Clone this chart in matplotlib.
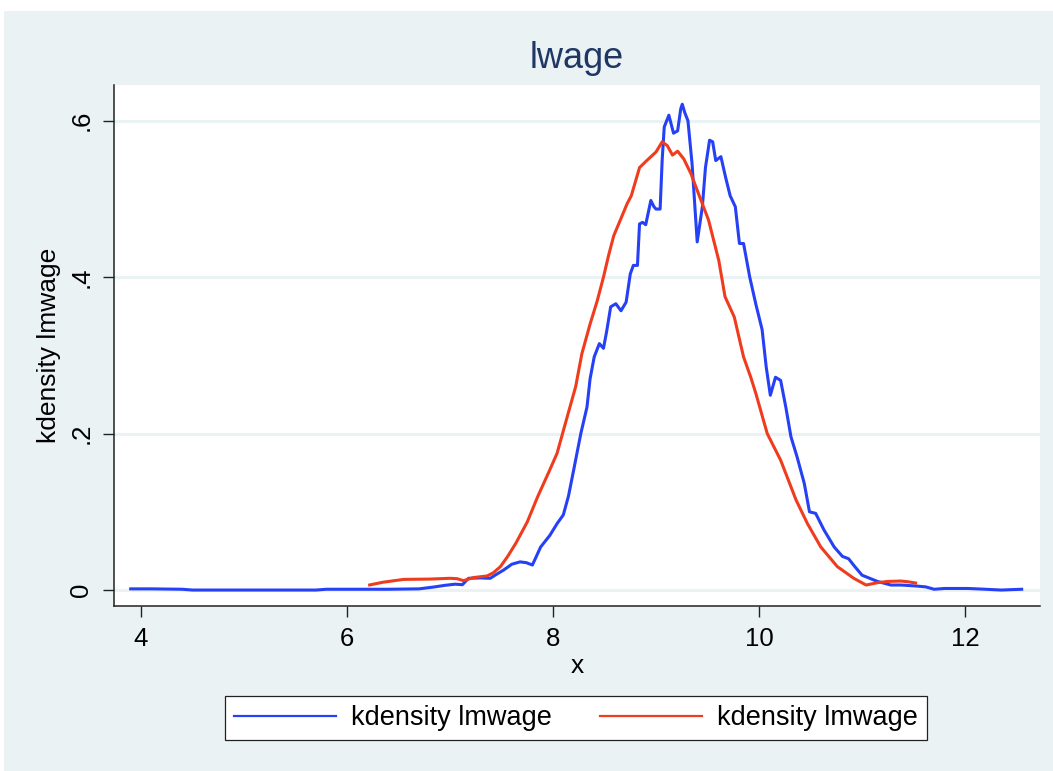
import matplotlib
matplotlib.use("Agg")
import matplotlib.pyplot as plt
from matplotlib.lines import Line2D

plt.rcParams['font.family'] = ['Liberation Sans', 'DejaVu Sans']

title = "lwage"
x_label = "x"
y_label = "kdensity lmwage"
legend_labels = ["kdensity lmwage", "kdensity lmwage"]
x_ticks = [4, 6, 8, 10, 12]
y_ticks = [0, 0.2, 0.4, 0.6]
y_tick_labels = ["0", ".2", ".4", ".6"]

blue_x = [3.90, 4.10, 4.40, 4.50, 5.00, 5.70, 5.80, 6.40, 6.70, 6.85, 6.95, 7.05, 7.12, 7.18,
          7.30, 7.39, 7.45, 7.52, 7.60, 7.68, 7.74, 7.80, 7.88, 7.97, 8.04, 8.10, 8.15, 8.20,
          8.27, 8.33, 8.36, 8.40, 8.45, 8.49, 8.52, 8.56, 8.61, 8.66, 8.71, 8.75, 8.78, 8.82,
          8.84, 8.87, 8.90, 8.95, 8.98, 9.00, 9.04, 9.06, 9.08, 9.125, 9.17, 9.21, 9.24, 9.255,
          9.28, 9.31, 9.35, 9.40, 9.45, 9.48, 9.52, 9.55, 9.58, 9.63, 9.675, 9.72, 9.77, 9.81,
          9.85, 9.91, 9.97, 10.03, 10.07, 10.11, 10.16, 10.21, 10.26, 10.31, 10.37, 10.44,
          10.49, 10.55, 10.63, 10.73, 10.81, 10.87, 10.93, 11.00, 11.15, 11.28, 11.38, 11.54,
          11.62, 11.70, 11.80, 12.03, 12.20, 12.35, 12.55]
blue_y = [0.0015, 0.0015, 0.001, 0.0, 0.0, 0.0, 0.001, 0.001, 0.0015, 0.004, 0.006, 0.0075,
          0.0068, 0.015, 0.0155, 0.015, 0.020, 0.0255, 0.033, 0.036, 0.035, 0.032, 0.055,
          0.070, 0.085, 0.096, 0.120, 0.153, 0.200, 0.234, 0.270, 0.298, 0.315, 0.309, 0.330,
          0.362, 0.366, 0.357, 0.368, 0.404, 0.415, 0.415, 0.468, 0.470, 0.467, 0.498, 0.490,
          0.487, 0.487, 0.550, 0.592, 0.607, 0.584, 0.587, 0.615, 0.621, 0.610, 0.600, 0.545,
          0.445, 0.490, 0.540, 0.575, 0.573, 0.549, 0.554, 0.528, 0.504, 0.490, 0.443, 0.443,
          0.400, 0.365, 0.333, 0.285, 0.249, 0.272, 0.268, 0.234, 0.196, 0.170, 0.136, 0.100,
          0.098, 0.077, 0.055, 0.043, 0.040, 0.030, 0.019, 0.011, 0.0064, 0.0064, 0.005,
          0.004, 0.001, 0.002, 0.002, 0.001, 0.0, 0.001]

red_x = [6.22, 6.35, 6.55, 6.80, 7.00, 7.07, 7.13, 7.23, 7.36, 7.42, 7.49, 7.56, 7.64, 7.75,
         7.85, 7.96, 8.04, 8.12, 8.22, 8.28, 8.36, 8.43, 8.49, 8.54, 8.59, 8.66, 8.72, 8.76,
         8.80, 8.84, 8.91, 9.00, 9.06, 9.11, 9.16, 9.21, 9.27, 9.34, 9.42, 9.51, 9.61, 9.67,
         9.76, 9.85, 9.92, 9.97, 10.08, 10.21, 10.36, 10.47, 10.60, 10.76, 10.92, 11.04,
         11.15, 11.25, 11.38, 11.45, 11.52]
red_y = [0.0065, 0.010, 0.0136, 0.014, 0.015, 0.0145, 0.012, 0.016, 0.018, 0.022, 0.030,
         0.043, 0.060, 0.087, 0.119, 0.151, 0.175, 0.213, 0.260, 0.302, 0.340, 0.370, 0.400,
         0.428, 0.453, 0.475, 0.494, 0.504, 0.522, 0.540, 0.549, 0.560, 0.573, 0.568, 0.556,
         0.561, 0.551, 0.532, 0.504, 0.473, 0.421, 0.375, 0.349, 0.298, 0.272, 0.251, 0.200,
         0.166, 0.115, 0.085, 0.055, 0.030, 0.015, 0.0064, 0.0094, 0.011, 0.0115, 0.0105,
         0.009]

W, H = 1053, 771
BG = '#eaf2f3'
BLUE = '#2540f5'
RED = '#f03c1e'
LW = 2.2

fig = plt.figure(figsize=(W / 100, H / 100), dpi=100, facecolor='white')
bg_ax = fig.add_axes([4 / W, 0, 1 - 4 / W, (H - 11) / H], zorder=-10)
bg_ax.set_facecolor(BG)
bg_ax.set_xticks([])
bg_ax.set_yticks([])
for s in bg_ax.spines.values():
    s.set_visible(False)

left, right, top, bottom = 114, 1040, 85, 606
ax = fig.add_axes([left / W, (H - bottom) / H, (right - left) / W, (bottom - top) / H], zorder=1)
ax.set_facecolor('white')
ax.set_xlim(3.738, 12.728)
ax.set_ylim(-0.0204, 0.6456)

for yv in y_ticks:
    ax.axhline(yv, color=BG, lw=2.2, zorder=1)

ax.plot(blue_x, blue_y, color=BLUE, lw=LW, zorder=3, solid_joinstyle='round')
ax.plot(red_x, red_y, color=RED, lw=LW, zorder=3, solid_joinstyle='round')

for s in ['top', 'right']:
    ax.spines[s].set_visible(False)
for s in ['left', 'bottom']:
    ax.spines[s].set_color('#222222')
    ax.spines[s].set_linewidth(1.1)

ax.set_xticks(x_ticks)
ax.set_xticklabels([str(v) for v in x_ticks])
ax.set_yticks(y_ticks)
ax.set_yticklabels(y_tick_labels, rotation=90, va='center')
ax.tick_params(axis='both', length=8, width=1.0, color='#222222', labelsize=18.5, pad=7)

ax.set_xlabel(x_label, fontsize=19, labelpad=2)
ax.set_ylabel(y_label, fontsize=19, labelpad=6)
ax.set_title(title, fontsize=26, color='#1e3765', pad=12)

handles = [Line2D([], [], color=BLUE, lw=1.6), Line2D([], [], color=RED, lw=1.6)]
leg = fig.legend(handles, legend_labels, ncol=2, loc='center',
                 bbox_to_anchor=((225 + 927) / 2 / W, (H - 718) / H),
                 fontsize=19.5, frameon=True, fancybox=False, handlelength=3.74,
                 columnspacing=1.8, borderpad=0.33, borderaxespad=0,
                 handletextpad=0.56, framealpha=1)
leg.get_frame().set_edgecolor('#222222')
leg.get_frame().set_linewidth(0.9)
leg.set_zorder(5)

fig.savefig('out.png', dpi=100, facecolor='white')
